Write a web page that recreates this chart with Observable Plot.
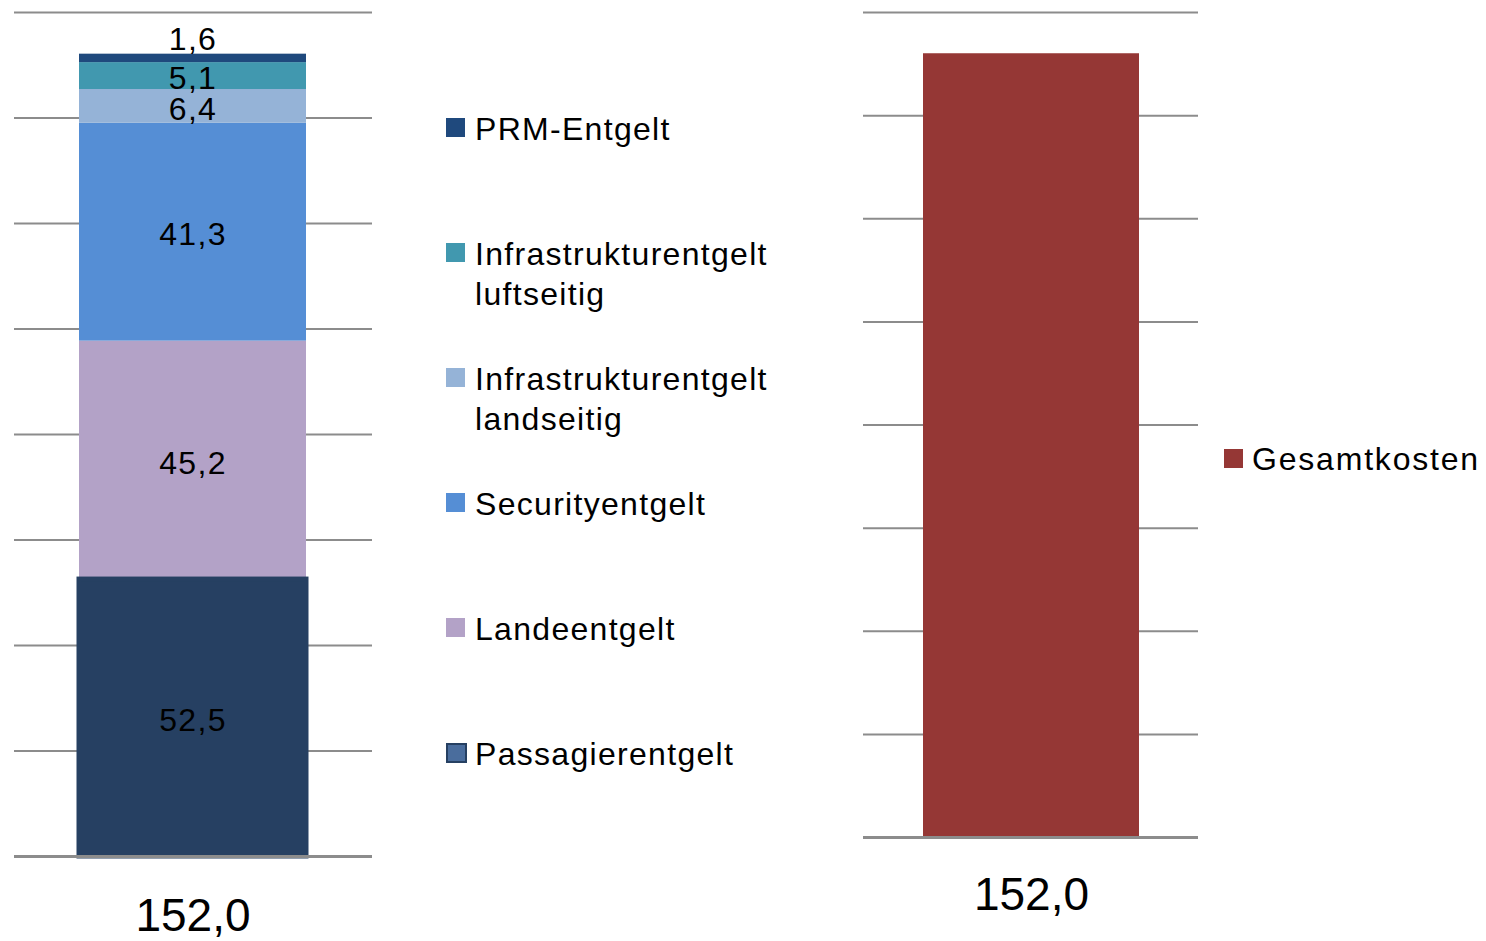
<!DOCTYPE html>
<html>
<head>
<meta charset="utf-8">
<script src="https://cdn.jsdelivr.net/npm/d3@7"></script>
<script src="https://cdn.jsdelivr.net/npm/@observablehq/plot@0.6"></script>
<style>
  html, body { margin: 0; padding: 0; background: white; }
  #root { position: relative; width: 1486px; height: 941px; overflow: hidden; font-family: "Liberation Sans", Arial, sans-serif; }
  .panel { position: absolute; top: 0; }
  .leg { position: absolute; font-size: 32px; line-height: 40px; letter-spacing: 1.3px; color: #000; white-space: pre; }
  .sw { position: absolute; width: 19px; height: 19px; box-sizing: border-box; }
</style>
</head>
<body>
<div id="root"></div>
<script>
// ---- data ----
const category = "152,0";
const series = ["Passagierentgelt", "Landeentgelt", "Securityentgelt", "Infrastrukturentgelt landseitig", "Infrastrukturentgelt luftseitig", "PRM-Entgelt"];
const legendLabels = ["Passagierentgelt", "Landeentgelt", "Securityentgelt", "Infrastrukturentgelt\nlandseitig", "Infrastrukturentgelt\nluftseitig", "PRM-Entgelt"];
const values = [52.5, 45.2, 41.3, 6.4, 5.1, 1.6];
const colors = ["#264062", "#B3A2C7", "#558ED5", "#95B3D7", "#4198AF", "#1F497D"];
const totalCategory = "152,0";
const totalSeries = "Gesamtkosten";
const totalValues = [152.0];
const totalColor = "#953735";
const yTicks = [20, 40, 60, 80, 100, 120, 140, 160];

const fmt = v => v.toFixed(1).replace(".", ",");
const rows = series.map((s, i) => ({cat: category, series: s, value: values[i], label: fmt(values[i])}));
const totalRows = totalValues.map(v => ({cat: totalCategory, series: totalSeries, value: v}));

const root = document.getElementById("root");
const grid = "#8c8c8c";
const font = "'Liberation Sans', Arial, sans-serif";

// ---- left stacked chart ----
const left = Plot.plot({
  width: 420, height: 941,
  marginTop: 12, marginBottom: 85, marginLeft: 14, marginRight: 48,
  x: {domain: [category], padding: 0.222},
  y: {domain: [0, 160], axis: null},
  color: {domain: series, range: colors},
  style: {fontFamily: font, background: "transparent", color: "black", overflow: "visible"},
  marks: [
    Plot.gridY(yTicks, {stroke: grid, strokeOpacity: 1, strokeWidth: 2}),
    Plot.barY(rows, {x: "cat", y: "value", fill: "series"}),
    Plot.barY(rows.slice(0, 1), {x: "cat", y: "value", fill: colors[0], stroke: colors[0], strokeWidth: 5}),
    Plot.ruleY([0], {stroke: grid, strokeWidth: 3}),
    Plot.text(rows, Plot.stackY({x: "cat", y: "value", text: d => d.series === "PRM-Entgelt" ? "" : d.label, fontSize: 32, fill: "black", dy: 3})),
    Plot.text(rows, Plot.stackY({x: "cat", y: "value", text: d => d.series === "PRM-Entgelt" ? d.label : "", fontSize: 32, fill: "black", dy: -19})),
    Plot.axisX({tickSize: 0, tickPadding: 42, fontSize: 46, label: null})
  ]
});
left.classList.add("panel");
left.style.left = "0px";
left.querySelectorAll("g[aria-label='text'] text").forEach(t => t.setAttribute("letter-spacing", "1.3"));
root.appendChild(left);

// ---- left legend (top to bottom: reverse of stack) ----
const legOrder = series.map((s, i) => i).reverse();
legOrder.forEach((i, k) => {
  const baseline = 140 + 125 * k;
  const sw = document.createElement("div");
  sw.className = "sw";
  sw.style.left = "446px";
  sw.style.top = (baseline - 22) + "px";
  if (i === 0) {
    sw.style.background = "#4A6D9D";
    sw.style.border = "2px solid " + colors[0];
    sw.style.width = "21px"; sw.style.height = "20px";
  } else {
    sw.style.background = colors[i];
  }
  root.appendChild(sw);
  const t = document.createElement("div");
  t.className = "leg";
  t.style.left = "475px";
  t.style.top = (baseline - 31) + "px";
  t.textContent = legendLabels[i];
  root.appendChild(t);
});

// ---- right total chart ----
const right = Plot.plot({
  width: 360, height: 941,
  marginTop: 12, marginBottom: 104, marginLeft: 13, marginRight: 12,
  x: {domain: [totalCategory], padding: 0.216},
  y: {domain: [0, 160], axis: null},
  style: {fontFamily: font, background: "transparent", color: "black", overflow: "visible"},
  marks: [
    Plot.gridY(yTicks, {stroke: grid, strokeOpacity: 1, strokeWidth: 2}),
    Plot.barY(totalRows, {x: "cat", y: "value", fill: totalColor}),
    Plot.ruleY([0], {stroke: grid, strokeWidth: 3}),
    Plot.axisX({tickSize: 0, tickPadding: 40, fontSize: 46, label: null})
  ]
});
right.classList.add("panel");
right.style.left = "850px";
root.appendChild(right);

// ---- right legend ----
const rsw = document.createElement("div");
rsw.className = "sw";
rsw.style.left = "1224px";
rsw.style.top = "449px";
rsw.style.background = totalColor;
root.appendChild(rsw);
const rt = document.createElement("div");
rt.className = "leg";
rt.style.left = "1252px";
rt.style.top = (470 - 31) + "px";
rt.style.letterSpacing = "1.8px";
rt.textContent = totalSeries;
root.appendChild(rt);
</script>
</body>
</html>
